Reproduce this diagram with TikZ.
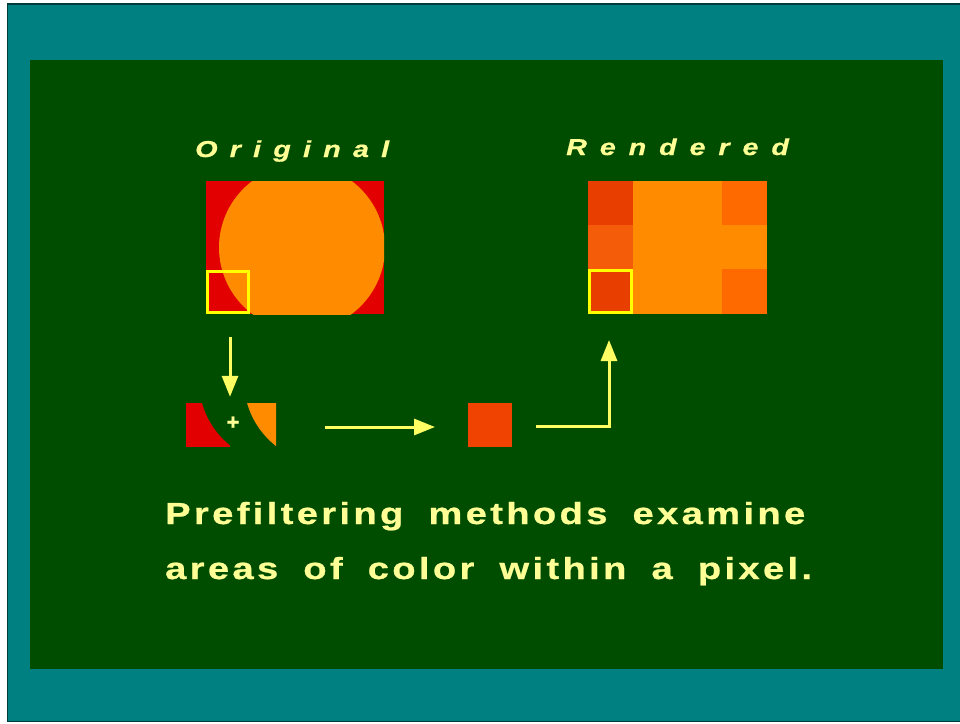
\documentclass[tikz,border=0pt]{standalone}
\usepackage{fontspec}
\setmainfont{Liberation Sans}
\newfontfamily\bodyfont[LetterSpace=11,WordSpace=1.8,FakeStretch=1.25,FakeBold=0.8]{Liberation Sans}
\newfontfamily\titlefont[LetterSpace=53,FakeStretch=1.25,FakeBold=0.6]{Liberation Sans}
\newfontfamily\plusfont[FakeBold=1.5]{Liberation Sans}
\usetikzlibrary{arrows.meta}
\definecolor{teal0}{RGB}{0,128,128}
\definecolor{tealdark}{RGB}{0,60,60}
\definecolor{panel}{RGB}{0,77,0}
\definecolor{cream}{RGB}{255,255,150}
\definecolor{arrowy}{RGB}{255,255,100}
\definecolor{ybox}{RGB}{255,255,0}
\definecolor{red0}{RGB}{226,0,0}
\definecolor{orange0}{RGB}{255,140,0}
\definecolor{cellA}{RGB}{232,62,0}
\definecolor{cellB}{RGB}{244,92,10}
\definecolor{cellC}{RGB}{255,106,0}
\definecolor{sqred}{RGB}{240,66,0}
\tikzset{
  arr/.style={draw=arrowy, line width=3pt, -{Triangle[length=21pt,width=16pt]}},
  bodytext/.style={text=cream, anchor=base west, inner sep=0pt, font=\bodyfont\bfseries\fontsize{30.5}{36}\selectfont},
  titletext/.style={text=cream, anchor=base west, inner sep=0pt, font=\titlefont\bfseries\itshape\fontsize{23}{28}\selectfont}
}
\begin{document}
\begin{tikzpicture}[x=1pt,y=-1pt]
\useasboundingbox (0,0) rectangle (960,723);
\fill[white] (0,0) rectangle (960,723);
\fill[teal0] (7,4) rectangle (962,722);
\draw[tealdark, line width=1.5pt] (962,4) -- (7.5,4) -- (7.5,721.5) -- (962,721.5);
\fill[panel] (30,60) rectangle (943,669);

% titles
\node[titletext] (t1) at (195,157) {Original};
\node[titletext] (t2) at (566,155) {\addfontfeature{LetterSpace=56}Rendered};

% original image
\node[inner sep=0pt, minimum width=178pt, minimum height=133pt] (orig) at (295,247.5) {};
\fill[red0] (206,181) rectangle (384,314);
\begin{scope}
  \clip (206,181) rectangle (384,314);
  \fill[orange0] (302,247.5) circle (83pt);
\end{scope}
\node[inner sep=0pt, minimum width=44pt, minimum height=44pt] (ysq) at (228,292) {};
\draw[ybox, line width=3pt] (207.5,271.5) rectangle (248.5,312.5);

% rendered image
\node[inner sep=0pt, minimum width=179pt, minimum height=133pt] (rend) at (677.5,247.5) {};
\fill[orange0] (588,181) rectangle (767,314);
\fill[cellA] (588,181) rectangle (633,225);
\fill[cellB] (588,225) rectangle (633,269);
\fill[cellA] (588,269) rectangle (633,314);
\fill[cellC] (722,181) rectangle (767,225);
\fill[cellC] (722,269) rectangle (767,314);
\draw[ybox, line width=3pt] (589.5,270.5) rectangle (631.5,312.5);

% pieces
\node[inner sep=0pt, minimum width=90pt, minimum height=44pt] (pieces) at (231,425) {};
\begin{scope}
  \clip (186,403) rectangle (230,447);
  \fill[red0] (186,403) rectangle (230,447);
  \fill[panel] (282,380.5) circle (83pt);
\end{scope}
\begin{scope}
  \clip (231,403) rectangle (276,447);
  \fill[orange0] (327,380.5) circle (83pt);
\end{scope}
\node[text=cream, font=\plusfont\bfseries\fontsize{22}{22}\selectfont, inner sep=0pt] (plus) at (233,423) {+};

% result pixel
\node[inner sep=0pt, minimum width=44pt, minimum height=44pt, fill=sqred] (sq) at (490,425) {};

% arrows
\coordinate (d1) at (230,337);
\draw[arr, shorten >=6pt] (d1) -- (d1 |- pieces.north);
\coordinate (h1) at (325,427);
\coordinate (h1e) at (435,427);
\draw[arr] (h1) -- (h1e);
\coordinate (h2) at (536,426);
\coordinate (u2) at (609,340);
\draw[arr] (h2) -| (u2);

% caption
\node[bodytext] (c1) at (165,524) {Prefiltering methods examine};
\node[bodytext] (c2) at (165,579) {areas of color within a pixel.};
\end{tikzpicture}
\end{document}
